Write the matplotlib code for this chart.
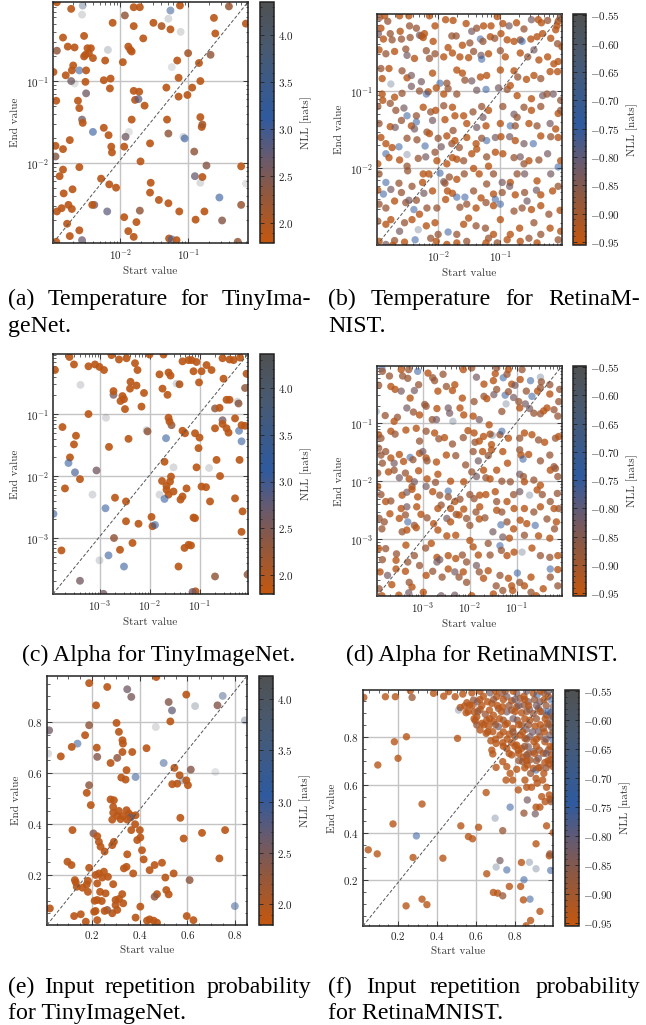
import numpy as np
import matplotlib
matplotlib.use("Agg")
import matplotlib.pyplot as plt
from matplotlib.colors import LinearSegmentedColormap, Normalize
from matplotlib.cm import ScalarMappable
from matplotlib.ticker import FuncFormatter, AutoMinorLocator, NullFormatter, LogLocator, MultipleLocator

# ---------------- data (log10 of start / end values for log-scaled panels) ----------------
# (a) Temperature, TinyImageNet
a_start_log10 = [
    -2.93,-2.72,-2.55,-2.56,-1.93,-1.80,-1.71,-1.26,-1.29,-1.12,
    -0.40,-0.62,-0.15,-2.11,-1.80,-1.51,-1.39,-1.26,-1.11,-0.60,
    -2.84,-2.53,-1.66,-2.93,-2.77,-2.67,-2.48,-2.43,-2.46,-2.51,
    -2.53,-2.40,-2.18,-1.88,-1.85,-1.83,-2.22,-1.96,-2.98,-2.69,
    -2.71,-2.60,-2.50,-2.80,-2.72,-2.67,-2.51,-2.50,-2.15,-2.14,
    -2.24,-1.24,-1.16,-1.00,-0.84,-0.67,-1.14,-0.82,-1.32,-1.14,
    -1.01,-0.94,-1.80,-1.72,-1.78,-1.73,-1.64,-2.94,-2.62,-2.60,
    -2.56,-2.55,-2.24,-2.40,-2.17,-2.95,-2.74,-2.13,-2.12,-1.94,
    -1.92,-1.87,-1.83,-1.56,-1.31,-1.29,-1.07,-1.05,-0.82,-0.80,
    -0.79,-0.91,-2.95,-2.84,-2.60,-2.89,-2.84,-2.83,-2.70,-2.28,
    -2.16,-2.06,-1.70,-1.55,-1.56,-1.43,-1.29,-0.90,-0.79,-0.82,
    -0.73,-0.22,-0.15,-0.54,-2.93,-2.86,-2.76,-2.71,-2.78,-2.74,
    -2.38,-2.41,-2.19,-1.94,-1.88,-1.80,-1.76,-1.71,-2.60,-2.56,
    -1.28,-1.24,-1.17,-1.13,-0.89,-0.76,-0.50,-0.22,-0.27,-2.94]
a_end_log10 = [
    -0.04,-0.12,-0.08,-0.19,-0.20,-0.10,-0.10,-0.14,-0.24,-0.08,
    -0.09,-0.23,-0.30,-0.29,-0.33,-0.29,-0.33,-0.37,-0.40,-0.42,
    -0.47,-0.45,-0.48,-0.63,-0.58,-0.59,-0.60,-0.60,-0.66,-0.68,
    -0.70,-0.72,-0.62,-0.58,-0.62,-0.64,-0.75,-0.77,-0.89,-0.81,
    -0.87,-0.87,-0.87,-0.93,-1.00,-1.03,-1.01,-1.15,-1.09,-0.97,
    -0.99,-0.83,-0.75,-0.66,-0.78,-0.68,-0.96,-1.00,-1.08,-1.19,
    -1.17,-1.08,-1.12,-1.13,-1.23,-1.22,-1.30,-1.24,-1.24,-1.33,
    -1.47,-1.51,-1.57,-1.62,-1.66,-1.79,-1.72,-1.80,-1.87,-1.80,
    -1.68,-1.62,-1.47,-1.76,-1.47,-1.64,-1.68,-1.70,-1.44,-1.56,
    -1.53,-1.86,-1.92,-1.83,-2.05,-2.16,-2.08,-2.37,-2.32,-2.19,
    -2.26,-2.30,-1.98,-2.24,-2.36,-2.45,-2.49,-2.16,-2.17,-2.24,
    -2.03,-2.04,-2.25,-2.42,-2.59,-2.55,-2.51,-2.56,-2.74,-2.89,
    -2.51,-2.51,-2.59,-2.66,-2.83,-2.90,-2.72,-2.58,-2.82,-2.94,
    -2.92,-2.93,-2.94,-2.59,-2.69,-2.59,-2.70,-2.51,-2.96,-2.96]
a_nll = [
    1.9,1.9,3.7,4.1,2.3,1.9,1.9,3.3,4.1,1.9,
    2.2,1.9,1.9,1.9,1.9,1.9,2.0,1.9,4.1,1.9,
    1.9,1.9,1.9,2.3,1.9,1.9,1.9,1.9,1.9,1.9,
    1.9,1.9,4.0,1.9,1.9,1.9,1.9,1.9,1.9,1.9,
    1.9,3.2,1.9,1.9,2.6,4.2,1.9,2.6,1.9,1.9,
    1.9,4.2,1.9,2.1,1.9,2.3,1.9,1.9,1.9,1.9,
    1.9,1.9,1.9,1.9,1.9,2.8,1.9,1.9,1.9,1.9,
    2.6,1.9,1.9,3.1,1.9,1.9,1.9,1.9,1.9,1.9,
    2.6,4.2,1.9,1.9,1.9,2.3,4.1,3.1,1.9,1.9,
    2.1,2.3,2.4,1.9,1.9,1.9,1.9,1.9,1.9,1.9,
    1.9,1.9,1.9,1.9,1.9,1.9,1.9,2.7,1.9,4.1,
    2.4,1.9,4.2,3.1,1.9,1.9,1.9,1.9,1.9,1.9,
    2.6,1.9,2.8,1.9,1.9,1.9,1.9,2.3,1.9,2.7,
    1.9,3.2,1.9,1.9,1.9,1.9,2.4,2.2,2.3,1.9]

# (b) Temperature, RetinaMNIST
b_start_log10 = [
    -2.94,-2.86,-2.92,-2.96,-2.81,-2.77,-2.62,-2.47,-2.61,-2.46,
    -2.35,-2.30,-2.27,-2.22,-2.14,-2.05,-1.88,-1.76,-1.78,-1.71,
    -1.55,-1.46,-1.38,-1.27,-1.15,-1.05,-0.96,-0.86,-0.74,-0.62,
    -0.50,-0.39,-0.34,-0.24,-0.11,-0.09,-0.07,-0.04,-0.99,-2.88,
    -2.74,-2.59,-2.45,-2.24,-2.08,-1.84,-1.61,-1.49,-1.32,-1.28,
    -1.16,-1.09,-0.89,-0.78,-0.68,-0.65,-0.51,-0.41,-0.32,-0.19,
    -0.08,-0.01,-2.95,-2.84,-2.70,-2.52,-2.50,-2.38,-2.19,-2.14,
    -2.05,-1.91,-1.77,-1.65,-1.51,-1.43,-1.31,-1.30,-1.19,-1.00,
    -0.92,-0.68,-0.56,-0.46,-0.38,-0.24,-0.14,-0.07,-2.92,-2.79,
    -2.90,-2.58,-2.50,-2.43,-2.27,-2.09,-1.97,-1.86,-1.70,-1.61,
    -1.57,-1.46,-1.32,-1.22,-1.00,-0.78,-0.72,-0.58,-0.46,-0.35,
    -0.20,-0.08,-2.76,-2.90,-2.89,-2.70,-2.58,-2.43,-2.30,-2.16,
    -2.19,-2.03,-1.91,-1.84,-1.70,-1.38,-1.23,-1.03,-0.89,-0.84,
    -0.73,-0.50,-0.32,-0.25,-0.15,-0.03,-2.97,-2.77,-2.68,-2.55,
    -2.50,-2.35,-2.24,-2.12,-2.04,-1.91,-1.77,-1.73,-1.59,-1.44,
    -1.30,-1.28,-1.19,-0.96,-0.78,-0.73,-0.62,-0.50,-0.35,-0.07,
    -0.03,-2.95,-2.77,-2.69,-2.59,-2.43,-2.38,-2.35,-2.18,-2.09,
    -1.89,-1.76,-1.54,-1.38,-1.23,-1.00,-0.84,-0.76,-0.54,-0.41,
    -0.20,-0.11,-2.92,-2.84,-2.84,-2.74,-2.63,-2.50,-2.34,-2.21,
    -2.14,-2.00,-1.95,-1.86,-1.78,-1.73,-1.66,-1.54,-1.39,-1.30,
    -1.22,-1.08,-0.99,-0.85,-0.76,-0.62,-0.47,-0.35,-0.19,-0.07,
    -2.97,-2.79,-2.62,-2.50,-2.50,-2.32,-2.20,-2.05,-2.02,-1.86,
    -1.77,-1.70,-1.59,-1.46,-1.38,-1.22,-1.08,-0.96,-0.78,-0.68,
    -0.62,-0.54,-0.38,-0.24,-0.07,-0.03,-2.95,-2.84,-2.63,-2.49,
    -2.24,-2.15,-1.97,-1.91,-1.82,-1.70,-1.58,-1.43,-1.34,-1.19,
    -1.11,-0.97,-0.84,-0.73,-0.61,-0.41,-0.19,-2.97,-2.88,-2.76,
    -2.59,-2.42,-2.25,-2.23,-2.09,-1.89,-1.85,-1.77,-1.70,-1.57,
    -1.43,-1.31,-1.22,-1.11,-1.08,-0.97,-0.85,-0.76,-0.61,-0.57,
    -0.42,-0.35,-0.16,-0.07,-2.95,-2.84,-2.70,-2.52,-2.47,-2.35,
    -2.39,-2.30,-2.18,-2.02,-1.88,-1.65,-1.54,-1.39,-1.23,-1.11,
    -1.00,-0.78,-0.65,-0.50,-0.35,-0.22,-0.04,-2.97,-2.84,-2.76,
    -2.62,-2.54,-2.42,-2.32,-2.19,-2.05,-2.00,-1.84,-1.70,-1.59,
    -1.51,-1.39,-1.24,-1.19,-1.11,-1.00,-0.84,-0.69,-0.68,-0.46,
    -0.35,-0.20,-0.07,-0.03,-2.95,-2.84,-2.70,-2.54,-2.37,-2.12,
    -2.03,-1.86,-1.70,-1.54,-1.23,-1.05,-0.89,-0.54,-0.41,-2.73]
b_end_log10 = [
    -0.05,-0.03,-0.19,-0.26,-0.10,-0.26,-0.03,-0.03,-0.23,-0.16,
    -0.19,-0.28,-0.29,-0.26,-0.03,-0.16,-0.08,-0.09,-0.29,-0.29,
    -0.13,-0.23,-0.19,-0.16,-0.16,-0.04,-0.13,-0.16,-0.12,-0.20,
    -0.08,-0.08,-0.12,-0.09,-0.21,-0.16,-0.10,-0.06,-0.26,-0.33,
    -0.34,-0.33,-0.31,-0.31,-0.36,-0.44,-0.41,-0.38,-0.33,-0.36,
    -0.30,-0.32,-0.34,-0.36,-0.34,-0.36,-0.33,-0.30,-0.26,-0.32,
    -0.39,-0.43,-0.47,-0.52,-0.49,-0.46,-0.54,-0.58,-0.48,-0.58,
    -0.52,-0.56,-0.51,-0.56,-0.57,-0.49,-0.54,-0.59,-0.52,-0.48,
    -0.56,-0.51,-0.56,-0.47,-0.60,-0.56,-0.65,-0.62,-0.71,-0.71,
    -0.84,-0.74,-0.83,-0.80,-0.88,-0.77,-0.90,-0.90,-0.73,-0.77,
    -0.86,-0.87,-0.82,-0.80,-0.73,-0.74,-0.82,-0.85,-0.80,-0.84,
    -0.75,-0.75,-0.91,-1.04,-1.12,-1.08,-1.03,-0.94,-1.00,-1.01,
    -1.04,-0.96,-1.04,-0.97,-1.04,-0.99,-0.98,-0.96,-0.98,-0.93,
    -1.06,-1.10,-1.06,-1.04,-1.04,-1.12,-1.20,-1.16,-1.25,-1.22,
    -1.32,-1.32,-1.21,-1.27,-1.25,-1.19,-1.21,-1.32,-1.32,-1.27,
    -1.20,-1.34,-1.25,-1.20,-1.30,-1.34,-1.21,-1.25,-1.20,-1.29,
    -1.25,-1.42,-1.46,-1.47,-1.38,-1.45,-1.49,-1.40,-1.53,-1.38,
    -1.37,-1.51,-1.42,-1.47,-1.45,-1.42,-1.45,-1.45,-1.42,-1.45,
    -1.42,-1.49,-1.60,-1.68,-1.81,-1.73,-1.72,-1.61,-1.63,-1.71,
    -1.55,-1.61,-1.72,-1.58,-1.68,-1.64,-1.73,-1.60,-1.68,-1.61,
    -1.64,-1.60,-1.59,-1.59,-1.64,-1.68,-1.68,-1.58,-1.59,-1.60,
    -1.94,-1.86,-1.89,-1.82,-1.97,-1.87,-1.85,-1.79,-1.90,-1.94,
    -1.86,-1.88,-1.90,-1.81,-1.75,-1.85,-1.79,-1.81,-1.86,-1.85,
    -1.94,-1.90,-1.89,-1.81,-1.98,-1.90,-2.07,-2.18,-2.19,-2.03,
    -2.07,-2.07,-2.06,-2.17,-2.11,-2.14,-2.07,-2.00,-2.07,-1.97,
    -2.07,-2.18,-2.18,-2.07,-2.07,-2.16,-2.07,-2.28,-2.33,-2.27,
    -2.31,-2.23,-2.18,-2.32,-2.29,-2.19,-2.29,-2.32,-2.37,-2.37,
    -2.29,-2.38,-2.20,-2.33,-2.40,-2.31,-2.23,-2.34,-2.31,-2.42,
    -2.28,-2.34,-2.29,-2.23,-2.46,-2.51,-2.42,-2.44,-2.41,-2.41,
    -2.53,-2.59,-2.51,-2.51,-2.40,-2.50,-2.46,-2.51,-2.44,-2.48,
    -2.46,-2.55,-2.51,-2.53,-2.48,-2.59,-2.54,-2.68,-2.72,-2.66,
    -2.81,-2.70,-2.66,-2.79,-2.74,-2.70,-2.85,-2.82,-2.85,-2.72,
    -2.64,-2.74,-2.77,-2.90,-2.85,-2.66,-2.85,-2.77,-2.94,-2.70,
    -2.85,-2.77,-2.92,-2.81,-2.94,-2.98,-2.93,-2.95,-2.92,-2.90,
    -2.94,-2.98,-2.96,-2.94,-2.96,-2.96,-2.92,-2.90,-2.96,-2.99]
b_nll = [
    -0.885,-0.935,-0.935,-0.830,-0.885,-0.885,-0.935,-0.935,-0.935,-0.885,
    -0.885,-0.830,-0.885,-0.935,-0.935,-0.935,-0.935,-0.935,-0.885,-0.885,
    -0.935,-0.830,-0.885,-0.935,-0.935,-0.935,-0.935,-0.830,-0.935,-0.885,
    -0.830,-0.935,-0.935,-0.885,-0.935,-0.935,-0.935,-0.885,-0.935,-0.935,
    -0.885,-0.885,-0.885,-0.935,-0.935,-0.935,-0.935,-0.885,-0.740,-0.885,
    -0.935,-0.885,-0.935,-0.935,-0.885,-0.740,-0.935,-0.935,-0.935,-0.935,
    -0.885,-0.935,-0.935,-0.885,-0.935,-0.885,-0.830,-0.935,-0.885,-0.885,
    -0.885,-0.935,-0.935,-0.935,-0.935,-0.885,-0.830,-0.740,-0.935,-0.885,
    -0.935,-0.935,-0.885,-0.830,-0.935,-0.935,-0.935,-0.935,-0.885,-0.935,
    -0.935,-0.885,-0.935,-0.830,-0.830,-0.935,-0.740,-0.885,-0.935,-0.935,
    -0.885,-0.830,-0.935,-0.935,-0.935,-0.935,-0.885,-0.935,-0.935,-0.885,
    -0.935,-0.935,-0.640,-0.935,-0.935,-0.935,-0.885,-0.830,-0.885,-0.935,
    -0.740,-0.935,-0.935,-0.885,-0.885,-0.830,-0.740,-0.830,-0.885,-0.935,
    -0.935,-0.935,-0.830,-0.885,-0.830,-0.885,-0.885,-0.885,-0.885,-0.830,
    -0.740,-0.885,-0.935,-0.885,-0.935,-0.885,-0.935,-0.935,-0.935,-0.885,
    -0.885,-0.830,-0.935,-0.885,-0.830,-0.885,-0.885,-0.935,-0.885,-0.935,
    -0.885,-0.885,-0.935,-0.830,-0.885,-0.935,-0.830,-0.740,-0.885,-0.830,
    -0.935,-0.885,-0.935,-0.830,-0.935,-0.935,-0.740,-0.885,-0.935,-0.885,
    -0.830,-0.935,-0.935,-0.935,-0.740,-0.935,-0.740,-0.885,-0.885,-0.740,
    -0.935,-0.885,-0.830,-0.935,-0.885,-0.935,-0.885,-0.935,-0.935,-0.885,
    -0.740,-0.830,-0.935,-0.830,-0.935,-0.830,-0.740,-0.935,-0.885,-0.935,
    -0.935,-0.935,-0.935,-0.640,-0.885,-0.885,-0.830,-0.885,-0.935,-0.935,
    -0.935,-0.935,-0.885,-0.935,-0.935,-0.885,-0.935,-0.935,-0.885,-0.830,
    -0.885,-0.935,-0.885,-0.830,-0.740,-0.935,-0.885,-0.740,-0.885,-0.885,
    -0.935,-0.935,-0.740,-0.830,-0.885,-0.935,-0.885,-0.935,-0.935,-0.935,
    -0.885,-0.830,-0.935,-0.885,-0.830,-0.935,-0.830,-0.935,-0.740,-0.830,
    -0.885,-0.885,-0.935,-0.830,-0.935,-0.885,-0.935,-0.935,-0.740,-0.740,
    -0.885,-0.935,-0.885,-0.935,-0.740,-0.885,-0.830,-0.935,-0.885,-0.830,
    -0.830,-0.935,-0.935,-0.885,-0.885,-0.885,-0.935,-0.885,-0.830,-0.885,
    -0.740,-0.935,-0.885,-0.885,-0.935,-0.885,-0.885,-0.935,-0.885,-0.935,
    -0.740,-0.885,-0.885,-0.935,-0.935,-0.885,-0.935,-0.885,-0.935,-0.935,
    -0.830,-0.885,-0.935,-0.640,-0.935,-0.935,-0.885,-0.740,-0.885,-0.935,
    -0.935,-0.885,-0.885,-0.885,-0.935,-0.935,-0.935,-0.935,-0.935,-0.885,
    -0.885,-0.935,-0.885,-0.935,-0.935,-0.830,-0.885,-0.935,-0.740,-0.885,
    -0.935,-0.935,-0.935,-0.885,-0.935,-0.885,-0.935,-0.885,-0.935,-0.935]

# (c) Alpha, TinyImageNet
c_start_log10 = [
    -3.90,-3.61,-3.52,-3.23,-3.10,-3.01,-2.92,-2.77,-2.62,-2.47,
    -2.30,-2.25,-2.39,-2.40,-2.27,-2.12,-2.01,-1.73,-1.81,-1.63,
    -1.59,-1.75,-1.65,-1.41,-1.47,-1.35,-1.23,-1.17,-1.07,-1.13,
    -0.97,-0.87,-0.77,-1.02,-0.55,-0.41,-0.33,-0.20,-0.07,-0.53,
    -0.10,-3.39,-2.73,-2.73,-2.55,-2.59,-2.52,-2.50,-2.17,-3.23,
    -2.88,-3.75,-3.48,-3.52,-3.60,-3.63,-3.50,-3.07,-3.40,-3.70,
    -2.43,-2.82,-2.07,-2.05,-1.68,-1.57,-1.61,-1.63,-1.71,-1.76,
    -1.60,-1.67,-1.67,-1.63,-1.53,-1.58,-1.53,-1.81,-1.71,-1.35,
    -1.39,-1.27,-1.13,-1.35,-1.30,-1.10,-1.01,-1.03,-1.07,-0.97,
    -0.88,-0.80,-0.82,-0.67,-0.60,-0.70,-0.70,-0.61,-0.55,-0.55,
    -0.47,-0.43,-0.47,-0.41,-0.30,-0.23,-0.22,-0.25,-0.17,-0.10,
    -0.17,-0.21,-0.30,-0.15,-0.17,-0.05,-3.93,-2.70,-2.48,-2.48,
    -2.23,-2.89,-2.72,-2.60,-2.35,-2.83,-2.52,-3.01,-3.15,-3.77,
    -3.40,-2.93,-1.97,-1.95,-1.90,-1.43,-1.31,-1.23,-1.18,-1.10,
    -1.09,-1.15,-0.70]
c_end_log10 = [
    -0.29,-0.08,-0.20,-0.23,-0.20,-0.24,-0.29,-0.05,-0.12,-0.10,
    -0.18,-0.29,-0.48,-0.59,-0.54,-0.66,-0.04,-0.04,-0.36,-0.33,
    -0.38,-0.59,-0.69,-0.52,-0.51,-0.15,-0.13,-0.13,-0.16,-0.31,
    -0.31,-0.21,-0.29,-0.49,-0.10,-0.12,-0.13,-0.09,-0.35,-0.43,
    -0.58,-0.53,-0.69,-0.63,-0.71,-0.79,-0.76,-0.92,-0.88,-1.00,
    -1.06,-1.21,-1.35,-1.49,-1.70,-1.79,-1.94,-1.91,-2.05,-2.20,
    -1.40,-1.53,-1.26,-1.28,-1.39,-1.18,-1.12,-1.06,-1.77,-2.08,
    -2.09,-2.16,-2.22,-2.30,-2.25,-2.01,-1.86,-2.30,-2.37,-2.33,
    -2.38,-2.20,-2.67,-1.27,-1.31,-1.31,-1.38,-1.55,-1.86,-2.17,
    -2.18,-2.41,-1.87,-1.74,-2.00,-1.23,-0.91,-0.90,-1.10,-1.16,
    -1.23,-1.30,-0.77,-0.77,-1.07,-0.83,-1.27,-0.80,-1.18,-1.19,
    -1.44,-1.74,-2.36,-2.57,-2.90,-3.59,-2.61,-2.35,-2.41,-2.73,
    -2.77,-2.52,-3.00,-3.19,-3.08,-3.28,-3.46,-3.36,-2.30,-3.20,
    -3.69,-3.90,-2.66,-2.81,-2.79,-3.46,-3.16,-3.11,-3.12,-2.68,
    -3.86,-3.87,-3.62]
c_nll = [
    1.9,1.9,1.9,1.9,1.9,1.9,1.9,1.9,1.9,1.9,
    1.9,1.9,1.9,1.9,1.9,1.9,1.9,1.9,1.9,1.9,
    1.9,1.9,1.9,1.9,4.1,1.9,1.9,1.9,1.9,1.9,
    1.9,1.9,1.9,1.9,1.9,1.9,1.9,1.9,1.9,1.9,
    2.3,4.1,2.6,1.9,1.9,1.9,1.9,1.9,1.9,1.9,
    4.1,1.9,1.9,1.9,1.9,3.2,3.0,2.6,1.9,1.9,
    1.9,1.9,4.1,2.3,3.2,2.3,1.9,1.9,1.9,1.9,
    1.9,1.9,1.9,1.9,1.9,1.9,4.1,4.1,3.2,1.9,
    1.9,1.9,1.9,1.9,1.9,1.9,1.9,1.9,1.9,1.9,
    1.9,1.9,4.1,1.9,1.9,1.9,2.3,1.9,2.6,1.9,
    1.9,1.9,1.9,1.9,1.9,2.3,3.2,4.1,1.9,1.9,
    3.2,1.9,1.9,1.9,1.9,2.3,3.2,1.9,1.9,1.9,
    1.9,3.2,2.3,1.9,1.9,3.2,3.2,4.1,4.1,1.9,
    2.6,2.6,1.9,1.9,3.2,1.9,1.9,1.9,1.9,1.9,
    1.9,2.6,2.3]

# (d) Alpha, RetinaMNIST
d_start_log10 = [
    -3.87,-3.86,-3.71,-3.68,-3.46,-3.43,-3.32,-3.30,-3.11,-3.09,
    -2.89,-2.79,-2.75,-2.57,-2.50,-2.32,-2.14,-1.96,-1.86,-1.70,
    -1.50,-1.46,-1.29,-1.21,-1.18,-1.11,-1.04,-0.93,-0.71,-0.50,
    -0.48,-0.30,-0.89,-1.43,-0.09,-3.94,-3.59,-3.46,-3.27,-3.18,
    -2.96,-2.93,-2.68,-2.37,-2.16,-1.91,-1.70,-1.64,-1.49,-1.43,
    -1.25,-1.18,-1.07,-0.96,-0.80,-0.68,-0.56,-0.50,-0.30,-0.11,
    -3.99,-3.80,-3.54,-3.34,-3.20,-3.07,-2.70,-2.46,-2.43,-2.36,
    -2.21,-2.13,-1.93,-1.80,-1.59,-1.32,-1.23,-0.94,-0.82,-0.73,
    -0.64,-0.50,-0.43,-0.36,-0.21,-0.13,-3.61,-2.80,-2.71,-3.94,
    -3.89,-3.68,-3.59,-3.36,-3.14,-2.93,-3.07,-2.75,-2.66,-2.54,
    -2.37,-2.14,-2.04,-1.91,-1.89,-1.80,-1.71,-1.57,-1.54,-1.36,
    -1.32,-1.18,-1.52,-0.94,-0.84,-0.68,-0.54,-0.41,-0.18,-0.11,
    -3.94,-3.89,-3.79,-3.68,-3.61,-3.50,-3.41,-3.27,-3.21,-3.07,
    -3.00,-2.93,-2.91,-2.71,-2.50,-2.30,-2.09,-1.93,-1.82,-1.73,
    -1.61,-1.54,-1.30,-1.20,-0.94,-0.91,-0.87,-0.75,-0.50,-0.30,
    -0.21,-3.86,-3.96,-3.73,-3.61,-3.50,-3.37,-3.29,-3.18,-3.23,
    -3.09,-2.91,-2.68,-2.73,-2.46,-2.41,-2.13,-1.96,-1.86,-1.71,
    -1.66,-1.57,-1.43,-1.32,-1.14,-0.94,-0.86,-0.84,-0.64,-0.50,
    -0.29,-0.18,-0.13,-3.96,-3.89,-3.79,-3.68,-3.44,-3.34,-3.23,
    -3.11,-2.93,-2.79,-2.64,-2.46,-2.32,-2.21,-2.00,-1.91,-1.79,
    -1.66,-1.46,-1.43,-1.21,-1.07,-0.94,-0.73,-0.57,-0.46,-0.29,
    -0.14,-0.11,-3.46,-3.34,-3.13,-3.04,-2.68,-2.61,-2.41,-2.29,
    -2.13,-1.87,-1.79,-1.43,-1.32,-1.06,-0.84,-0.64,-0.50,-0.21,
    -3.93,-3.82,-3.70,-3.50,-3.37,-3.32,-3.18,-2.91,-2.77,-2.68,
    -2.49,-2.41,-2.23,-2.07,-2.00,-1.80,-1.68,-1.34,-1.21,-1.07,
    -0.93,-0.79,-0.61,-0.36,-0.20,-0.16,-3.87,-3.44,-3.34,-3.14,
    -2.30,-1.51,-1.30,-1.16,-0.84,-0.30,-0.54,-2.49,-3.94,-3.79,
    -3.56,-3.36,-3.18,-2.94,-2.82,-2.70,-2.64,-2.46,-2.30,-2.16,
    -2.07,-1.93,-1.82,-1.61,-1.57,-1.36,-1.33,-1.21,-1.06,-0.89,
    -0.68,-0.50,-0.30,-0.13,-3.86,-3.57,-3.32,-2.00,-3.91,-3.75,
    -3.66,-3.57,-3.37,-3.29,-3.23,-3.07,-2.93,-2.79,-2.70,-2.59,
    -2.46,-2.32,-2.23,-2.14,-2.07,-1.86,-1.80,-1.71,-1.61,-1.44,
    -1.36,-1.18,-1.11,-0.99,-0.94,-0.84,-0.70,-0.44,-0.29,-0.13,
    -0.13,-3.87,-3.93,-3.51,-3.30,-2.99,-2.61,-2.32,-1.96,-1.50,
    -1.30,-1.09,-0.70,-0.59,-0.29]
d_end_log10 = [
    -0.06,-0.11,-0.19,-0.37,-0.08,-0.19,-0.23,-0.08,-0.11,-0.34,
    -0.14,-0.22,-0.27,-0.16,-0.37,-0.34,-0.08,-0.05,-0.21,-0.33,
    -0.27,-0.15,-0.22,-0.16,-0.08,-0.33,-0.35,-0.25,-0.27,-0.21,
    -0.29,-0.34,-0.08,-0.05,-0.42,-0.35,-0.42,-0.45,-0.57,-0.44,
    -0.68,-0.71,-0.45,-0.44,-0.57,-0.63,-0.54,-0.58,-0.51,-0.42,
    -0.52,-0.46,-0.56,-0.63,-0.45,-0.54,-0.45,-0.39,-0.50,-0.63,
    -0.80,-0.87,-0.90,-0.74,-0.81,-0.86,-0.75,-0.74,-0.83,-0.97,
    -0.74,-0.86,-0.88,-0.94,-1.03,-0.80,-0.67,-0.74,-0.67,-0.75,
    -0.83,-0.84,-0.79,-0.74,-0.77,-0.88,-0.97,-0.94,-0.94,-1.20,
    -1.26,-1.14,-1.19,-1.12,-1.09,-1.14,-1.31,-1.17,-1.27,-1.25,
    -1.36,-1.25,-1.13,-1.17,-1.33,-1.31,-1.23,-1.19,-1.37,-1.20,
    -1.14,-1.26,-1.21,-1.26,-1.17,-1.20,-1.29,-1.33,-1.26,-1.23,
    -1.43,-1.55,-1.49,-1.60,-1.69,-1.54,-1.66,-1.59,-1.63,-1.52,
    -1.49,-1.60,-1.65,-1.67,-1.55,-1.56,-1.72,-1.49,-1.65,-1.49,
    -1.56,-1.46,-1.49,-1.69,-1.46,-1.55,-1.62,-1.54,-1.65,-1.55,
    -1.75,-1.69,-1.86,-1.84,-1.81,-1.94,-1.86,-1.96,-2.01,-2.09,
    -1.82,-1.96,-1.88,-2.02,-2.17,-2.00,-2.01,-1.84,-1.92,-1.81,
    -1.94,-1.96,-1.81,-2.00,-2.01,-1.88,-1.92,-2.01,-1.98,-2.07,
    -1.81,-1.78,-1.92,-2.09,-2.23,-2.35,-2.34,-2.24,-2.19,-2.14,
    -2.27,-2.09,-2.18,-2.24,-2.27,-2.35,-2.31,-2.23,-2.30,-2.24,
    -2.23,-2.18,-2.35,-2.35,-2.23,-2.18,-2.24,-2.15,-2.23,-2.35,
    -2.21,-2.47,-2.47,-2.44,-2.44,-2.57,-2.47,-2.41,-2.47,-2.57,
    -2.48,-2.53,-2.44,-2.50,-2.53,-2.47,-2.47,-2.53,-2.44,-2.47,
    -2.64,-2.70,-2.56,-2.64,-2.58,-2.70,-2.76,-2.63,-2.73,-2.84,
    -2.64,-2.70,-2.58,-2.64,-2.76,-2.65,-2.63,-2.75,-2.70,-2.82,
    -2.67,-2.73,-2.76,-2.65,-2.82,-2.70,-2.82,-2.87,-2.84,-2.80,
    -2.93,-2.87,-2.96,-2.98,-2.93,-2.98,-2.94,-2.94,-3.16,-3.16,
    -3.25,-3.10,-3.28,-3.15,-3.07,-3.31,-3.35,-3.28,-3.33,-3.27,
    -3.39,-3.13,-3.27,-3.07,-3.27,-3.11,-3.19,-3.28,-3.22,-3.22,
    -3.15,-3.28,-3.31,-3.28,-3.35,-3.36,-3.39,-3.02,-3.56,-3.62,
    -3.78,-3.51,-3.55,-3.74,-3.82,-3.45,-3.62,-3.55,-3.39,-3.65,
    -3.51,-3.56,-3.65,-3.56,-3.74,-3.45,-3.56,-3.67,-3.54,-3.80,
    -3.62,-3.67,-3.80,-3.58,-3.74,-3.80,-3.65,-3.85,-3.65,-3.80,
    -3.52,-3.97,-3.85,-3.96,-3.92,-3.91,-3.97,-3.96,-3.97,-3.94,
    -3.88,-3.88,-3.91,-3.97,-3.51]
d_nll = [
    -0.740,-0.885,-0.885,-0.935,-0.935,-0.885,-0.885,-0.885,-0.740,-0.885,
    -0.935,-0.885,-0.885,-0.885,-0.885,-0.935,-0.935,-0.885,-0.830,-0.935,
    -0.935,-0.935,-0.740,-0.885,-0.935,-0.935,-0.830,-0.935,-0.740,-0.640,
    -0.885,-0.885,-0.885,-0.885,-0.885,-0.885,-0.935,-0.830,-0.935,-0.830,
    -0.885,-0.885,-0.935,-0.935,-0.935,-0.885,-0.885,-0.935,-0.830,-0.885,
    -0.740,-0.885,-0.830,-0.885,-0.885,-0.740,-0.935,-0.885,-0.935,-0.885,
    -0.640,-0.885,-0.885,-0.830,-0.885,-0.935,-0.935,-0.830,-0.830,-0.640,
    -0.935,-0.935,-0.935,-0.830,-0.935,-0.885,-0.640,-0.935,-0.830,-0.830,
    -0.885,-0.885,-0.935,-0.935,-0.885,-0.885,-0.935,-0.885,-0.830,-0.935,
    -0.885,-0.935,-0.885,-0.935,-0.935,-0.885,-0.885,-0.935,-0.885,-0.935,
    -0.885,-0.885,-0.935,-0.935,-0.885,-0.935,-0.935,-0.935,-0.935,-0.885,
    -0.740,-0.935,-0.640,-0.885,-0.935,-0.935,-0.885,-0.935,-0.885,-0.935,
    -0.885,-0.885,-0.885,-0.935,-0.830,-0.935,-0.935,-0.740,-0.885,-0.935,
    -0.830,-0.935,-0.885,-0.935,-0.935,-0.885,-0.885,-0.885,-0.830,-0.935,
    -0.885,-0.935,-0.935,-0.935,-0.885,-0.935,-0.740,-0.935,-0.885,-0.885,
    -0.885,-0.885,-0.885,-0.935,-0.885,-0.830,-0.885,-0.935,-0.830,-0.885,
    -0.935,-0.935,-0.935,-0.885,-0.740,-0.935,-0.935,-0.885,-0.830,-0.935,
    -0.885,-0.935,-0.935,-0.885,-0.885,-0.830,-0.885,-0.935,-0.885,-0.935,
    -0.935,-0.885,-0.885,-0.935,-0.885,-0.935,-0.885,-0.935,-0.830,-0.935,
    -0.935,-0.830,-0.935,-0.885,-0.885,-0.935,-0.885,-0.885,-0.885,-0.935,
    -0.935,-0.935,-0.885,-0.935,-0.885,-0.830,-0.640,-0.935,-0.885,-0.885,
    -0.885,-0.885,-0.935,-0.830,-0.935,-0.935,-0.935,-0.885,-0.935,-0.885,
    -0.935,-0.885,-0.935,-0.935,-0.885,-0.935,-0.935,-0.885,-0.935,-0.935,
    -0.885,-0.885,-0.935,-0.935,-0.885,-0.740,-0.885,-0.885,-0.935,-0.935,
    -0.830,-0.935,-0.935,-0.885,-0.885,-0.935,-0.885,-0.740,-0.885,-0.935,
    -0.935,-0.935,-0.740,-0.885,-0.885,-0.935,-0.885,-0.885,-0.935,-0.935,
    -0.935,-0.830,-0.830,-0.935,-0.885,-0.935,-0.935,-0.935,-0.935,-0.885,
    -0.885,-0.935,-0.885,-0.885,-0.935,-0.935,-0.830,-0.935,-0.935,-0.885,
    -0.885,-0.935,-0.935,-0.885,-0.885,-0.740,-0.885,-0.935,-0.935,-0.640,
    -0.935,-0.885,-0.885,-0.935,-0.885,-0.935,-0.885,-0.935,-0.935,-0.830,
    -0.935,-0.935,-0.935,-0.885,-0.935,-0.885,-0.935,-0.885,-0.830,-0.885,
    -0.935,-0.830,-0.885,-0.935,-0.885,-0.830,-0.885,-0.935,-0.935,-0.885,
    -0.885,-0.935,-0.935,-0.740,-0.885,-0.935,-0.935,-0.935,-0.885,-0.885,
    -0.935,-0.935,-0.885,-0.935,-0.830,-0.935,-0.830,-0.830,-0.935,-0.935,
    -0.885,-0.935,-0.885,-0.935,-0.740]

# (e) Input repetition probability, TinyImageNet
e_start = [
    0.022,0.469,0.187,0.263,0.347,0.364,0.216,0.521,0.535,0.528,
    0.595,0.632,0.748,0.726,0.467,0.187,0.170,0.138,0.114,0.019,
    0.015,0.068,0.219,0.221,0.302,0.312,0.327,0.329,0.327,0.368,
    0.428,0.277,0.305,0.344,0.322,0.340,0.382,0.500,0.545,0.567,
    0.536,0.557,0.581,0.595,0.614,0.717,0.661,0.841,0.570,0.584,
    0.602,0.187,0.177,0.194,0.117,0.277,0.291,0.288,0.288,0.312,
    0.305,0.319,0.344,0.354,0.365,0.382,0.361,0.347,0.284,0.329,
    0.380,0.400,0.402,0.389,0.364,0.409,0.416,0.493,0.542,0.507,
    0.511,0.521,0.472,0.462,0.441,0.462,0.402,0.372,0.347,0.344,
    0.333,0.291,0.284,0.252,0.235,0.205,0.221,0.228,0.214,0.228,
    0.249,0.242,0.256,0.266,0.288,0.298,0.330,0.326,0.312,0.298,
    0.305,0.284,0.221,0.233,0.240,0.221,0.263,0.252,0.187,0.182,
    0.177,0.182,0.152,0.131,0.135,0.214,0.221,0.173,0.124,0.096,
    0.159,0.210,0.208,0.113,0.127,0.609,0.597,0.625,0.458,0.472,
    0.430,0.441,0.382,0.734,0.758,0.799]
e_end = [
    0.069,0.976,0.952,0.937,0.928,0.898,0.865,0.878,0.845,0.802,
    0.907,0.862,0.902,0.865,0.780,0.787,0.748,0.715,0.702,0.767,
    0.676,0.665,0.699,0.663,0.796,0.761,0.728,0.715,0.682,0.682,
    0.697,0.639,0.659,0.611,0.582,0.574,0.584,0.639,0.620,0.591,
    0.556,0.558,0.571,0.571,0.613,0.604,0.365,0.806,0.424,0.343,
    0.552,0.552,0.522,0.474,0.376,0.496,0.493,0.467,0.444,0.451,
    0.432,0.419,0.454,0.441,0.432,0.434,0.425,0.417,0.417,0.431,
    0.399,0.376,0.347,0.337,0.376,0.297,0.261,0.248,0.206,0.190,
    0.141,0.124,0.125,0.115,0.219,0.239,0.076,0.206,0.281,0.232,
    0.226,0.330,0.317,0.292,0.311,0.363,0.352,0.330,0.200,0.206,
    0.213,0.190,0.128,0.193,0.164,0.102,0.089,0.125,0.106,0.082,
    0.063,0.050,0.167,0.134,0.098,0.102,0.063,0.059,0.228,0.177,
    0.163,0.134,0.046,0.171,0.154,0.059,0.023,0.017,0.039,0.252,
    0.150,0.099,0.056,0.239,0.180,0.180,0.039,0.023,0.021,0.013,
    0.021,0.026,0.033,0.265,0.376,0.078]
e_nll = [
    1.9,1.9,1.9,1.9,2.6,2.5,1.9,2.4,2.7,1.9,
    1.9,3.8,3.4,2.4,4.0,2.3,1.9,3.2,1.9,2.6,
    4.0,1.9,1.9,2.4,1.9,1.9,1.9,1.9,1.9,1.9,
    1.9,1.9,2.3,1.9,1.9,1.9,3.2,3.3,1.9,1.9,
    1.9,1.9,3.6,1.9,2.4,4.1,1.9,3.7,1.9,1.9,
    1.9,2.3,1.9,1.9,1.9,1.9,1.9,1.9,1.9,1.9,
    1.9,1.9,1.9,1.9,1.9,1.9,2.6,1.9,1.9,1.9,
    1.9,1.9,1.9,1.9,1.9,1.9,1.9,1.9,1.9,1.9,
    1.9,1.9,1.9,2.3,1.9,1.9,1.9,1.9,1.9,1.9,
    1.9,1.9,1.9,1.9,1.9,2.4,1.9,1.9,1.9,1.9,
    1.9,1.9,1.9,1.9,1.9,1.9,1.9,1.9,1.9,1.9,
    1.9,1.9,1.9,1.9,1.9,1.9,2.3,1.9,1.9,1.9,
    1.9,1.9,1.9,1.9,1.9,1.9,1.9,1.9,1.9,1.9,
    1.9,1.9,1.9,1.9,1.9,2.3,1.9,1.9,1.9,1.9,
    1.9,1.9,1.9,1.9,1.9,3.3]

# (f) Input repetition probability, RetinaMNIST
f_start = [
    0.024,0.135,0.186,0.263,0.272,0.382,0.459,0.493,0.532,0.579,
    0.434,0.181,0.243,0.200,0.096,0.323,0.174,0.047,0.093,0.277,
    0.294,0.430,0.522,0.561,0.582,0.613,0.655,0.505,0.541,0.689,
    0.711,0.737,0.771,0.829,0.877,0.880,0.928,0.857,0.241,0.323,
    0.348,0.596,0.604,0.655,0.652,0.676,0.703,0.686,0.681,0.737,
    0.737,0.703,0.754,0.775,0.788,0.809,0.758,0.783,0.817,0.843,
    0.860,0.839,0.863,0.894,0.880,0.908,0.914,0.942,0.908,0.928,
    0.948,0.976,0.983,0.996,0.962,0.976,0.979,0.996,0.976,0.962,
    0.908,0.928,0.904,0.863,0.775,0.698,0.737,0.652,0.860,0.817,
    0.553,0.567,0.587,0.607,0.638,0.659,0.672,0.681,0.706,0.732,
    0.758,0.783,0.809,0.826,0.846,0.868,0.894,0.914,0.928,0.948,
    0.971,0.988,0.996,0.519,0.549,0.590,0.621,0.647,0.669,0.689,
    0.715,0.737,0.758,0.783,0.809,0.834,0.846,0.874,0.894,0.920,
    0.942,0.962,0.983,0.996,0.604,0.630,0.664,0.689,0.715,0.740,
    0.761,0.788,0.812,0.834,0.857,0.877,0.903,0.920,0.945,0.966,
    0.988,0.621,0.686,0.723,0.771,0.800,0.826,0.851,0.877,0.897,
    0.928,0.953,0.979,0.996,0.809,0.834,0.868,0.894,0.925,0.945,
    0.971,0.988,0.996,0.783,0.877,0.920,0.953,0.758,0.851,0.885,
    0.937,0.955,0.984,0.833,0.843,0.983,0.979,0.908,0.846,0.510,
    0.703,0.758,0.874,0.908,0.846,0.723,
    0.620,0.700,0.750,0.790,0.860,0.930,0.970,0.620,0.690,0.740,
    0.800,0.850,0.900,0.950,0.580,0.630,0.710,0.770,0.820,0.870,
    0.910,0.960,0.560,0.610,0.730,0.800,0.860,0.930,0.970,0.590,
    0.670,0.720,0.790,0.850,0.910,0.955,0.990,0.640,0.700,0.750,
    0.820,0.870,0.930,0.975,0.660,0.740,0.790,0.840,0.890,0.950,
    0.995,0.700,0.760,0.860,0.910,0.960,0.740,0.800,0.850,0.910,
    0.980,0.770,0.820,0.870,0.900,0.960,0.820,0.860,0.910,0.970,
    0.850,0.920,0.960]
f_end = [
    0.964,0.967,0.967,0.992,0.964,0.981,0.988,0.967,0.978,0.983,
    0.969,0.779,0.800,0.710,0.682,0.519,0.436,0.328,0.311,0.296,
    0.386,0.293,0.428,0.383,0.374,0.422,0.228,0.793,0.928,0.150,
    0.147,0.136,0.175,0.175,0.122,0.033,0.071,0.011,0.094,0.122,
    0.099,0.867,0.849,0.869,0.814,0.783,0.772,0.728,0.744,0.775,
    0.696,0.672,0.619,0.647,0.619,0.664,0.751,0.724,0.744,0.714,
    0.724,0.696,0.682,0.668,0.647,0.626,0.606,0.619,0.661,0.672,
    0.647,0.686,0.703,0.675,0.589,0.557,0.539,0.400,0.303,0.428,
    0.506,0.506,0.478,0.536,0.506,0.460,0.408,0.567,0.589,0.578,
    0.942,0.932,0.953,0.946,0.969,0.946,0.983,0.939,0.967,0.981,
    0.967,0.950,0.981,0.960,0.969,0.946,0.981,0.974,0.946,0.983,
    0.969,0.953,0.925,0.922,0.900,0.904,0.914,0.894,0.911,0.890,
    0.918,0.925,0.904,0.911,0.925,0.900,0.932,0.914,0.897,0.918,
    0.904,0.890,0.900,0.883,0.883,0.856,0.844,0.863,0.842,0.869,
    0.856,0.835,0.869,0.849,0.831,0.869,0.844,0.821,0.835,0.856,
    0.839,0.828,0.821,0.807,0.811,0.800,0.807,0.793,0.800,0.779,
    0.800,0.779,0.807,0.786,0.765,0.751,0.758,0.738,0.744,0.731,
    0.744,0.724,0.758,0.775,0.703,0.710,0.692,0.675,0.619,0.589,
    0.550,0.529,0.529,0.275,0.119,0.242,0.311,0.353,0.481,0.911,
    0.256,0.244,0.276,0.249,0.203,0.283,
    0.990,0.990,0.990,0.990,0.990,0.990,0.990,0.955,0.955,0.955,
    0.955,0.955,0.955,0.955,0.930,0.930,0.930,0.930,0.930,0.930,
    0.930,0.930,0.905,0.905,0.905,0.905,0.905,0.905,0.905,0.875,
    0.875,0.875,0.875,0.875,0.875,0.875,0.875,0.850,0.850,0.850,
    0.850,0.850,0.850,0.850,0.820,0.820,0.820,0.820,0.820,0.820,
    0.820,0.790,0.790,0.790,0.790,0.790,0.760,0.760,0.760,0.760,
    0.760,0.730,0.730,0.730,0.730,0.730,0.700,0.700,0.700,0.700,
    0.670,0.670,0.670]
f_nll = [
    -0.935,-0.935,-0.935,-0.935,-0.885,-0.935,-0.935,-0.935,-0.935,-0.935,
    -0.935,-0.935,-0.935,-0.935,-0.935,-0.935,-0.935,-0.935,-0.935,-0.935,
    -0.740,-0.935,-0.935,-0.935,-0.935,-0.935,-0.935,-0.935,-0.935,-0.935,
    -0.935,-0.885,-0.935,-0.935,-0.740,-0.935,-0.935,-0.935,-0.935,-0.935,
    -0.935,-0.935,-0.885,-0.935,-0.935,-0.935,-0.935,-0.935,-0.935,-0.935,
    -0.935,-0.935,-0.935,-0.935,-0.935,-0.935,-0.935,-0.935,-0.935,-0.935,
    -0.885,-0.885,-0.935,-0.935,-0.885,-0.935,-0.935,-0.935,-0.740,-0.885,
    -0.935,-0.935,-0.885,-0.935,-0.935,-0.935,-0.935,-0.935,-0.935,-0.935,
    -0.935,-0.935,-0.830,-0.830,-0.740,-0.640,-0.885,-0.935,-0.935,-0.935,
    -0.935,-0.935,-0.885,-0.830,-0.935,-0.935,-0.830,-0.935,-0.935,-0.885,
    -0.830,-0.935,-0.830,-0.885,-0.935,-0.830,-0.935,-0.740,-0.830,-0.885,
    -0.935,-0.740,-0.830,-0.935,-0.935,-0.935,-0.935,-0.885,-0.935,-0.935,
    -0.885,-0.935,-0.830,-0.885,-0.935,-0.935,-0.885,-0.830,-0.885,-0.885,
    -0.740,-0.885,-0.830,-0.935,-0.935,-0.935,-0.935,-0.935,-0.830,-0.885,
    -0.935,-0.935,-0.885,-0.885,-0.830,-0.935,-0.935,-0.830,-0.885,-0.935,
    -0.830,-0.935,-0.935,-0.935,-0.935,-0.885,-0.935,-0.935,-0.830,-0.935,
    -0.885,-0.935,-0.830,-0.740,-0.935,-0.935,-0.830,-0.830,-0.885,-0.935,
    -0.885,-0.935,-0.935,-0.935,-0.885,-0.830,-0.935,-0.935,-0.935,-0.935,
    -0.935,-0.935,-0.885,-0.935,-0.935,-0.740,-0.885,-0.935,-0.885,-0.640,
    -0.640,-0.740,-0.640,-0.640,-0.740,-0.830,
    -0.935,-0.935,-0.885,-0.935,-0.830,-0.935,-0.830,-0.935,-0.885,-0.935,
    -0.830,-0.935,-0.885,-0.935,-0.935,-0.935,-0.935,-0.885,-0.830,-0.935,
    -0.830,-0.885,-0.935,-0.885,-0.935,-0.935,-0.885,-0.935,-0.740,-0.935,
    -0.935,-0.935,-0.830,-0.935,-0.885,-0.935,-0.830,-0.935,-0.885,-0.935,
    -0.935,-0.885,-0.935,-0.885,-0.935,-0.935,-0.885,-0.935,-0.830,-0.935,
    -0.885,-0.935,-0.935,-0.885,-0.935,-0.830,-0.935,-0.935,-0.885,-0.935,
    -0.935,-0.935,-0.935,-0.885,-0.935,-0.830,-0.885,-0.935,-0.885,-0.935,
    -0.935,-0.935,-0.885]

tiny_nll_range = (1.79, 4.35)
retina_nll_range = (-0.955, -0.548)
tiny_cticks = [2.0, 2.5, 3.0, 3.5, 4.0]
retina_cticks = [-0.95, -0.90, -0.85, -0.80, -0.75, -0.70, -0.65, -0.60, -0.55]

captions = {
    "a": ["(a) Temperature for TinyIma-", "geNet."],
    "b": ["(b) Temperature for RetinaM-", "NIST."],
    "c": ["(c) Alpha for TinyImageNet."],
    "d": ["(d) Alpha for RetinaMNIST."],
    "e": ["(e) Input repetition probability", "for TinyImageNet."],
    "f": ["(f) Input repetition probability", "for RetinaMNIST."],
}

# ---------------- style ----------------
plt.rcParams.update({
    "font.family": "cmr10",
    "mathtext.fontset": "cm",
    "axes.unicode_minus": False,
    "axes.formatter.use_mathtext": True,
    "font.size": 8,
    "xtick.direction": "in", "ytick.direction": "in",
    "xtick.top": True, "ytick.right": True,
    "xtick.major.size": 3.5, "ytick.major.size": 3.5,
    "xtick.minor.size": 1.8, "ytick.minor.size": 1.8,
    "xtick.major.width": 0.6, "ytick.major.width": 0.6,
    "xtick.minor.width": 0.5, "ytick.minor.width": 0.5,
    "xtick.labelsize": 8, "ytick.labelsize": 8,
    "axes.labelsize": 8,
    "axes.linewidth": 1.1,
    "axes.edgecolor": "#222222",
    "xtick.color": "#222222", "ytick.color": "#222222",
    "text.color": "#333333", "axes.labelcolor": "#333333",
})

W, H = 646, 1025
fig = plt.figure(figsize=(W / 100, H / 100), dpi=100)

def px_axes(l, t, r, b):
    return fig.add_axes([l / W, 1 - b / H, (r - l) / W, (b - t) / H])

cmap = LinearSegmentedColormap.from_list("nll", [
    (0.00, "#c4570f"), (0.22, "#8c5843"), (0.36, "#665a70"),
    (0.52, "#2e5a9f"), (0.80, "#485a72"), (1.00, "#4f5151")])

def panel(box, cbox, xs, ys, nll, logscale, xlim, ylim, crange, cticks, cdec, msize, base_alpha):
    ax = px_axes(*box)
    norm = Normalize(*crange)
    n = np.clip(norm(np.asarray(nll, dtype=float)), 0, 1)
    rgba = cmap(n)
    rgba[:, 3] = base_alpha * np.clip(1.0 - 0.9 * n ** 1.5, 0.15, 1.0)
    ax.scatter(xs, ys, c=rgba, s=msize, linewidths=0, zorder=2)
    if logscale:
        ax.set_xscale("log"); ax.set_yscale("log")
        for axis in (ax.xaxis, ax.yaxis):
            axis.set_major_locator(LogLocator(base=10, numticks=10))
            axis.set_minor_locator(LogLocator(base=10, subs=np.arange(2, 10), numticks=20))
            axis.set_minor_formatter(NullFormatter())
    else:
        fmt = FuncFormatter(lambda v, p: f"${v:.1f}$")
        for axis in (ax.xaxis, ax.yaxis):
            axis.set_major_locator(MultipleLocator(0.2))
            axis.set_minor_locator(MultipleLocator(0.05))
            axis.set_major_formatter(fmt)
    ax.set_xlim(*xlim); ax.set_ylim(*ylim)
    ax.grid(True, which="major", color="#c4c4c4", lw=1.0, zorder=0)
    ax.set_axisbelow(True)
    ax.plot([0, 1], [0, 1], transform=ax.transAxes, ls=(0, (3.5, 2.0)),
            color="#555555", lw=0.7, zorder=3)
    ax.tick_params(which="both", top=True, right=True, pad=3)
    ax.set_xlabel("Start value", labelpad=3)
    ax.set_ylabel("End value", labelpad=4)
    cax = px_axes(*cbox)
    cb = fig.colorbar(ScalarMappable(norm=norm, cmap=cmap), cax=cax)
    cb.set_ticks(cticks)
    cb.ax.yaxis.set_major_formatter(FuncFormatter(lambda v, p: f"${v:.{cdec}f}$"))
    cb.ax.yaxis.set_minor_locator(AutoMinorLocator(5))
    cb.ax.tick_params(which="both", direction="in", left=True, right=True, labelsize=8, pad=3)
    cb.ax.tick_params(which="major", length=3)
    cb.ax.tick_params(which="minor", length=1.6)
    cb.outline.set_linewidth(1.1)
    cb.set_label("NLL [nats]", labelpad=5)
    return ax

def tolog(v):
    return 10.0 ** np.asarray(v)

panel((53, 2, 248, 243), (260, 2, 274, 243), tolog(a_start_log10), tolog(a_end_log10), a_nll,
      True, (1.03e-3, 0.76), (1.06e-3, 0.92), tiny_nll_range, tiny_cticks, 1, 32, 0.92)
panel((377, 14, 562, 245), (573, 14, 586, 245), tolog(b_start_log10), tolog(b_end_log10), b_nll,
      True, (1.04e-3, 0.98), (1.03e-3, 0.985), retina_nll_range, retina_cticks, 2, 28, 0.82)
panel((53, 354, 248, 594), (260, 354, 274, 594), tolog(c_start_log10), tolog(c_end_log10), c_nll,
      True, (1.15e-4, 0.91), (1.25e-4, 0.93), (1.80, 4.36), tiny_cticks, 1, 32, 0.92)
panel((377, 366, 562, 596), (573, 366, 586, 596), tolog(d_start_log10), tolog(d_end_log10), d_nll,
      True, (1.06e-4, 0.91), (1.06e-4, 0.96), retina_nll_range, retina_cticks, 2, 28, 0.82)
panel((47, 676, 247, 925), (259, 676, 273, 925), e_start, e_end, e_nll,
      False, (0.01, 0.85), (0.004, 0.98), (1.80, 4.22), tiny_cticks, 1, 32, 0.92)
panel((363, 690, 553, 926), (565, 690, 579, 926), f_start, f_end, f_nll,
      False, (0.02, 0.995), (0.01, 0.995), retina_nll_range, retina_cticks, 2, 28, 0.82)

# ---------------- captions (Times-like, justified first lines) ----------------
renderer = fig.canvas.get_renderer()
CAP_FAMILY = "Liberation Serif"

def measure(s, size):
    t = fig.text(0, 0, s, fontsize=size, family=CAP_FAMILY)
    w = t.get_window_extent(renderer).width
    t.remove()
    return w

cap_size = 14.0 * 274.0 / measure("(c) Alpha for TinyImageNet.", 14.0)

def justified(line, x0, x1, ybase):
    words = line.split(" ")
    widths = [measure(w, cap_size) for w in words]
    gap = ((x1 - x0) - sum(widths)) / (len(words) - 1)
    x = x0
    for w, wd in zip(words, widths):
        fig.text(x / W, 1 - ybase / H, w, fontsize=cap_size, family=CAP_FAMILY,
                 va="baseline", ha="left", color="black")
        x += wd + gap

def plain(line, x, ybase, ha="left"):
    fig.text(x / W, 1 - ybase / H, line, fontsize=cap_size, family=CAP_FAMILY,
             va="baseline", ha=ha, color="black")

for key, x0, x1, y1, y2 in [("a", 8, 311, 305, 332), ("b", 328, 640, 305, 332),
                            ("e", 8, 311, 993, 1019), ("f", 328, 640, 993, 1019)]:
    justified(captions[key][0], x0, x1, y1)
    plain(captions[key][1], x0, y2)
plain(captions["c"][0], 159, 661, ha="center")
plain(captions["d"][0], 482, 661, ha="center")

fig.savefig("out.png", dpi=100)
